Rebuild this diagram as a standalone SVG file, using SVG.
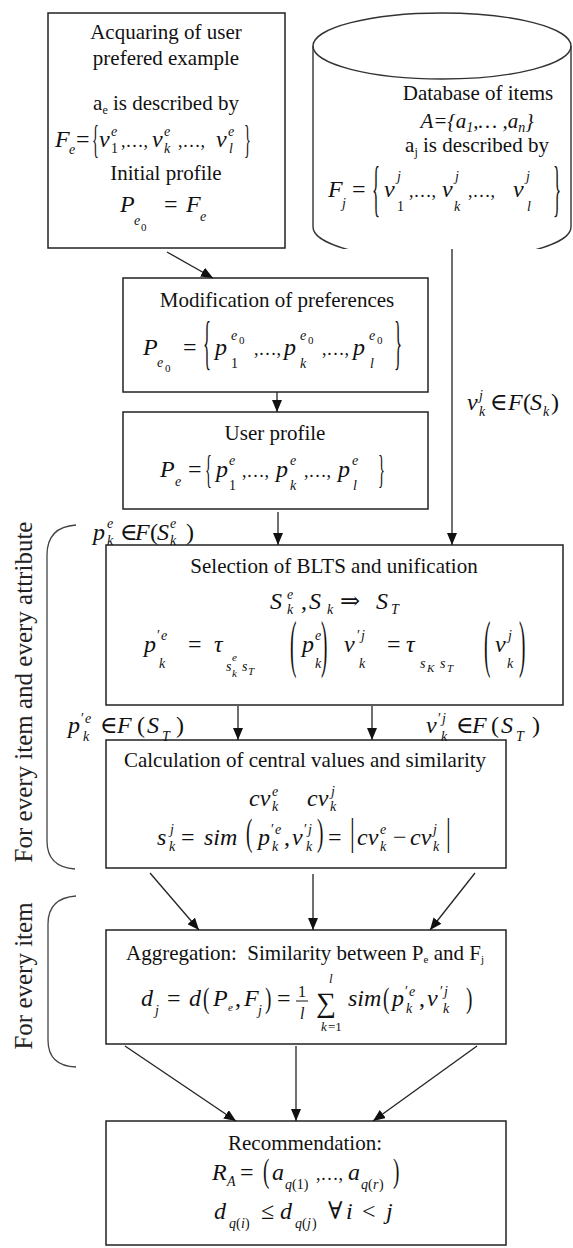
<svg xmlns="http://www.w3.org/2000/svg" width="573" height="1248" viewBox="0 0 573 1248">
<defs>
<style>
.t{font-family:"Liberation Serif","Times New Roman","DejaVu Serif",serif;font-size:21px;fill:#111}
.m{font-family:"Liberation Serif","Times New Roman","DejaVu Serif",serif;font-size:24px;font-style:italic;fill:#111}
.n{font-style:normal}
.s{font-size:14px}
.ss{font-size:11px}
.c{font-size:18px;font-style:normal}
.dl{font-family:"Liberation Serif","DejaVu Serif",serif;font-size:24px;fill:#111}
.box{fill:#fff;stroke:#222;stroke-width:1.5}
.ln{fill:none;stroke:#222;stroke-width:1.3}
.cyl{fill:none;stroke:#333;stroke-width:1.4}
.br{fill:none;stroke:#444;stroke-width:1.3}
.side{font-family:"Liberation Serif","Times New Roman",serif;font-size:25px;fill:#222}
</style>
<marker id="ah" viewBox="0 0 12 10" refX="12" refY="5" markerWidth="12" markerHeight="10" markerUnits="userSpaceOnUse" orient="auto"><path d="M0,0L12,5L0,10z" fill="#111"/></marker>
<clipPath id="cylclip"><rect x="300" y="0" width="273" height="249"/></clipPath>
</defs>
<rect width="573" height="1248" fill="#fff"/>

<g id="acquiring">
<rect class="box" x="48" y="13" width="237" height="235"/>
<text class="t" x="166" y="39" text-anchor="middle">Acquaring of user</text>
<text class="t" x="166" y="65" text-anchor="middle">prefered example</text>
<text class="t" x="166" y="110" text-anchor="middle">a<tspan font-size="12" dy="4">e</tspan><tspan dy="-4"> is described by</tspan></text>
<text class="m"><tspan x="55" y="147">F</tspan><tspan class="s" x="69" y="154">e</tspan><tspan class="n" x="76" y="147">=</tspan><tspan x="99" y="147">ν</tspan><tspan class="s" x="111" y="136">e</tspan><tspan class="s n" x="111" y="153">1</tspan><tspan class="c" x="121" y="147">,…,</tspan><tspan x="152" y="147">ν</tspan><tspan class="s" x="164" y="136">e</tspan><tspan class="s" x="164" y="153">k</tspan><tspan class="c" x="178" y="147">,…,</tspan><tspan x="216" y="147">ν</tspan><tspan class="s" x="228" y="136">e</tspan><tspan class="s" x="229" y="153">l</tspan></text>
<text class="dl" transform="translate(92,153) scale(0.6,1.7)">{</text>
<text class="dl" transform="translate(244,153) scale(0.6,1.7)">}</text>
<text class="t" x="166" y="180" text-anchor="middle">Initial profile</text>
<text class="m"><tspan x="120" y="212">P</tspan><tspan class="s" x="134" y="225">e</tspan><tspan class="ss n" x="141" y="231">0</tspan><tspan class="n" x="164" y="212">=</tspan><tspan x="186" y="212">F</tspan><tspan class="s" x="200" y="221">e</tspan></text>
</g>

<g id="database">
<g clip-path="url(#cylclip)">
<path class="cyl" d="M313,46 L313,227 A129,33 0 0 0 571,227 L571,46"/>
<ellipse class="cyl" cx="442" cy="46" rx="129" ry="33"/>
</g>
<text class="t" x="478" y="100" text-anchor="middle">Database of items</text>
<text class="m" x="477" y="128" text-anchor="middle" style="font-size:21px">A={a<tspan class="s" dy="4">1</tspan><tspan dy="-4">,… ,a</tspan><tspan class="s" dy="4">n</tspan><tspan dy="-4">}</tspan></text>
<text class="t" x="477" y="152" text-anchor="middle">a<tspan font-size="12" dy="4">j</tspan><tspan dy="-4"> is described by</tspan></text>
<text class="m"><tspan x="328" y="197">F</tspan><tspan class="s" x="342" y="208">j</tspan><tspan class="n" x="352" y="197">=</tspan><tspan x="384" y="197">ν</tspan><tspan class="s" x="397" y="181">j</tspan><tspan class="s n" x="397" y="211">1</tspan><tspan class="c" x="409" y="197">,…,</tspan><tspan x="442" y="197">ν</tspan><tspan class="s" x="455" y="181">j</tspan><tspan class="s" x="454" y="211">k</tspan><tspan class="c" x="468" y="197">,…,</tspan><tspan x="513" y="197">ν</tspan><tspan class="s" x="526" y="181">j</tspan><tspan class="s" x="527" y="211">l</tspan></text>
<text class="dl" transform="translate(372,209) scale(0.7,2.57)">{</text>
<text class="dl" transform="translate(553,209) scale(0.7,2.57)">}</text>
</g>

<g id="modification">
<rect class="box" x="123" y="278" width="305" height="114"/>
<text class="t" x="277" y="307" text-anchor="middle">Modification of preferences</text>
<text class="m"><tspan x="143" y="355">P</tspan><tspan class="s" x="157" y="367">e</tspan><tspan class="ss n" x="165" y="372">0</tspan><tspan class="n" x="183" y="355">=</tspan><tspan x="215" y="355">p</tspan><tspan class="s" x="231" y="340">e</tspan><tspan class="ss n" x="239" y="344">0</tspan><tspan class="s n" x="231" y="368">1</tspan><tspan class="c" x="254" y="355">,…,</tspan><tspan x="284" y="355">p</tspan><tspan class="s" x="300" y="340">e</tspan><tspan class="ss n" x="308" y="344">0</tspan><tspan class="s" x="300" y="368">k</tspan><tspan class="c" x="322" y="355">,…,</tspan><tspan x="353" y="355">p</tspan><tspan class="s" x="369" y="340">e</tspan><tspan class="ss n" x="377" y="344">0</tspan><tspan class="s" x="370" y="368">l</tspan></text>
<text class="dl" transform="translate(203,362) scale(0.7,2.46)">{</text>
<text class="dl" transform="translate(394,362) scale(0.7,2.46)">}</text>
</g>

<g id="userprofile">
<rect class="box" x="123" y="412" width="305" height="97"/>
<text class="t" x="275" y="440" text-anchor="middle">User profile</text>
<text class="m"><tspan x="160" y="477">P</tspan><tspan class="s" x="175" y="486">e</tspan><tspan class="n" x="188" y="477">=</tspan><tspan x="216" y="477">p</tspan><tspan class="s" x="229" y="465">e</tspan><tspan class="s n" x="229" y="490">1</tspan><tspan class="c" x="242" y="477">,…,</tspan><tspan x="276" y="477">p</tspan><tspan class="s" x="290" y="465">e</tspan><tspan class="s" x="290" y="490">k</tspan><tspan class="c" x="304" y="477">,…,</tspan><tspan x="338" y="477">p</tspan><tspan class="s" x="352" y="465">e</tspan><tspan class="s" x="353" y="490">l</tspan></text>
<text class="dl" transform="translate(205,483) scale(0.6,1.7)">{</text>
<text class="dl" transform="translate(378,483) scale(0.6,1.7)">}</text>
</g>

<g id="selection">
<rect class="box" x="106" y="545" width="457" height="160"/>
<text class="t" x="334" y="573" text-anchor="middle">Selection of BLTS and unification</text>
<text class="m"><tspan x="270" y="609">S</tspan><tspan class="s" x="287" y="599">e</tspan><tspan class="s" x="287" y="614">k</tspan><tspan class="n" x="301" y="609">,</tspan><tspan x="309" y="609">S</tspan><tspan class="s" x="327" y="614">k</tspan><tspan class="n" x="340" y="609">⇒</tspan><tspan x="376" y="609">S</tspan><tspan class="s" x="391" y="614">T</tspan></text>
<text class="m"><tspan x="144" y="652">p</tspan><tspan class="s n" x="157" y="640">′</tspan><tspan class="s" x="161" y="640">e</tspan><tspan class="s" x="159" y="668">k</tspan><tspan class="n" x="188" y="652">=</tspan><tspan x="214" y="652">τ</tspan><tspan class="s" x="226" y="671">s</tspan><tspan class="ss" x="232" y="661">e</tspan><tspan class="ss" x="232" y="677">k</tspan><tspan class="s" x="242" y="671">s</tspan><tspan class="ss" x="248" y="675">T</tspan><tspan x="302" y="652">p</tspan><tspan class="s" x="315" y="640">e</tspan><tspan class="s" x="315" y="668">k</tspan></text>
<text class="dl" transform="translate(290,665) scale(0.8,2.6)">(</text>
<text class="dl" transform="translate(321,665) scale(0.8,2.6)">)</text>
<text class="m"><tspan x="344" y="652">ν</tspan><tspan class="s n" x="357" y="640">′</tspan><tspan class="s" x="361" y="640">j</tspan><tspan class="s" x="359" y="668">k</tspan><tspan class="n" x="387" y="652">=</tspan><tspan x="406" y="652">τ</tspan><tspan class="s" x="420" y="668">s</tspan><tspan class="ss" x="427" y="672">K</tspan><tspan class="s" x="440" y="668">s</tspan><tspan class="ss" x="447" y="672">T</tspan><tspan x="495" y="652">ν</tspan><tspan class="s" x="508" y="640">j</tspan><tspan class="s" x="507" y="668">k</tspan></text>
<text class="dl" transform="translate(484,665) scale(0.8,2.6)">(</text>
<text class="dl" transform="translate(519,665) scale(0.8,2.6)">)</text>
</g>

<g id="calculation">
<rect class="box" x="106" y="740" width="400" height="128"/>
<text class="t" x="305" y="767" text-anchor="middle">Calculation of central values and similarity</text>
<text class="m"><tspan x="249" y="806">cv</tspan><tspan class="s" x="272" y="796">e</tspan><tspan class="s" x="272" y="811">k</tspan><tspan x="307" y="806">cv</tspan><tspan class="s" x="331" y="796">j</tspan><tspan class="s" x="330" y="811">k</tspan></text>
<text class="m"><tspan x="157" y="845">s</tspan><tspan class="s" x="170" y="834">j</tspan><tspan class="s" x="169" y="851">k</tspan><tspan class="n" x="181" y="845">=</tspan><tspan x="204" y="845">sim</tspan><tspan x="258" y="845">p</tspan><tspan class="s n" x="271" y="834">′</tspan><tspan class="s" x="275" y="834">e</tspan><tspan class="s" x="272" y="851">k</tspan><tspan class="n" x="284" y="845">,</tspan><tspan x="292" y="845">ν</tspan><tspan class="s n" x="304" y="834">′</tspan><tspan class="s" x="308" y="834">j</tspan><tspan class="s" x="306" y="851">k</tspan><tspan class="n" x="328" y="845">=</tspan><tspan x="357" y="845">cv</tspan><tspan class="s" x="380" y="834">e</tspan><tspan class="s" x="380" y="851">k</tspan><tspan class="n" x="393" y="845">−</tspan><tspan x="410" y="845">cv</tspan><tspan class="s" x="433" y="834">j</tspan><tspan class="s" x="433" y="851">k</tspan></text>
<text class="dl" transform="translate(246,845) scale(0.8,1.55)">(</text>
<text class="dl" transform="translate(317,845) scale(0.8,1.55)">)</text>
<text class="dl" transform="translate(350,845) scale(1,1.55)">|</text>
<text class="dl" transform="translate(446,845) scale(1,1.55)">|</text>
</g>

<g id="aggregation">
<rect class="box" x="106" y="930" width="400" height="114"/>
<text class="t" x="305" y="960" text-anchor="middle">Aggregation:&#160; Similarity between P<tspan font-size="11" dy="3">e</tspan><tspan dy="-3"> and F</tspan><tspan font-size="11" dy="3">j</tspan></text>
<text class="m"><tspan x="141" y="1006">d</tspan><tspan class="s" x="155" y="1015">j</tspan><tspan class="n" x="167" y="1006">=</tspan><tspan x="189" y="1006">d</tspan><tspan x="213" y="1006">P</tspan><tspan class="ss" x="228" y="1011">e</tspan><tspan class="n" x="235" y="1006">,</tspan><tspan x="244" y="1006">F</tspan><tspan class="s" x="258" y="1015">j</tspan><tspan class="n" x="277" y="1006">=</tspan><tspan class="n" x="298" y="997" font-size="16">1</tspan><tspan x="300" y="1019" font-size="16">l</tspan><tspan class="n" x="316" y="1012" font-size="28">∑</tspan><tspan x="329" y="983" font-size="13">l</tspan><tspan x="321" y="1031" font-size="13">k</tspan><tspan class="n" x="328" y="1031" font-size="13">=1</tspan><tspan x="348" y="1006">sim</tspan><tspan x="392" y="1006">p</tspan><tspan class="s n" x="405" y="996">′</tspan><tspan class="s" x="409" y="996">e</tspan><tspan class="s" x="406" y="1013">k</tspan><tspan class="n" x="419" y="1006">,</tspan><tspan x="427" y="1006">ν</tspan><tspan class="s n" x="440" y="996">′</tspan><tspan class="s" x="444" y="996">j</tspan><tspan class="s" x="443" y="1013">k</tspan></text>
<line x1="296" y1="1001" x2="308" y2="1001" stroke="#111" stroke-width="1"/>
<text class="dl" transform="translate(203,1008) scale(0.8,1.2)">(</text>
<text class="dl" transform="translate(265,1008) scale(0.8,1.2)">)</text>
<text class="dl" transform="translate(383,1008) scale(0.8,1.2)">(</text>
<text class="dl" transform="translate(466,1008) scale(0.8,1.2)">)</text>
</g>

<g id="recommendation">
<rect class="box" x="106" y="1121" width="400" height="124"/>
<text class="t" x="305" y="1150" text-anchor="middle">Recommendation:</text>
<text class="m"><tspan x="212" y="1180">R</tspan><tspan class="s" x="227" y="1186">A</tspan><tspan class="n" x="240" y="1180">=</tspan><tspan x="272" y="1180">a</tspan><tspan class="s" x="285" y="1189">q</tspan><tspan class="s n" x="292" y="1189">(1)</tspan><tspan class="c" x="316" y="1180">,…,</tspan><tspan x="348" y="1180">a</tspan><tspan class="s" x="361" y="1189">q</tspan><tspan class="s n" x="368" y="1189">(</tspan><tspan class="s" x="373" y="1189">r</tspan><tspan class="s n" x="379" y="1189">)</tspan></text>
<text class="dl" transform="translate(263,1182) scale(0.8,1.42)">(</text>
<text class="dl" transform="translate(393,1182) scale(0.8,1.42)">)</text>
<text class="m"><tspan x="214" y="1219">d</tspan><tspan class="s" x="229" y="1228">q</tspan><tspan class="s n" x="236" y="1228">(</tspan><tspan class="s" x="241" y="1228">i</tspan><tspan class="s n" x="245" y="1228">)</tspan><tspan class="n" x="261" y="1219">≤</tspan><tspan x="280" y="1219">d</tspan><tspan class="s" x="295" y="1228">q</tspan><tspan class="s n" x="302" y="1228">(</tspan><tspan class="s" x="307" y="1228">j</tspan><tspan class="s n" x="312" y="1228">)</tspan><tspan class="n" x="328" y="1219">∀</tspan><tspan x="346" y="1219">i</tspan><tspan class="n" x="362" y="1219">&lt;</tspan><tspan x="386" y="1219">j</tspan></text>
</g>

<g id="connectors">
<path class="ln" d="M167,252 L213,278" marker-end="url(#ah)"/>
<path class="ln" d="M277,392 L277,412" marker-end="url(#ah)"/>
<path class="ln" d="M278,512 L278,545" marker-end="url(#ah)"/>
<path class="ln" d="M452,249 L452,545" marker-end="url(#ah)"/>
<path class="ln" d="M238,706 L238,740" marker-end="url(#ah)"/>
<path class="ln" d="M372,706 L372,740" marker-end="url(#ah)"/>
<path class="ln" d="M150,873 L199,930" marker-end="url(#ah)"/>
<path class="ln" d="M313,874 L313,930" marker-end="url(#ah)"/>
<path class="ln" d="M475,873 L430,930" marker-end="url(#ah)"/>
<path class="ln" d="M125,1046 L236,1121" marker-end="url(#ah)"/>
<path class="ln" d="M296,1046 L296,1121" marker-end="url(#ah)"/>
<path class="ln" d="M477,1046 L373,1121" marker-end="url(#ah)"/>
<text class="m"><tspan x="467" y="410">ν</tspan><tspan class="s" x="479" y="400">j</tspan><tspan class="s" x="479" y="416">k</tspan><tspan class="n" x="490" y="410">∈</tspan><tspan x="508" y="410">F</tspan><tspan class="n" x="523" y="410">(</tspan><tspan x="530" y="410">S</tspan><tspan class="s" x="543" y="416">k</tspan><tspan class="n" x="551" y="410">)</tspan></text>
<text class="m"><tspan x="93" y="540">p</tspan><tspan class="s" x="107" y="528">e</tspan><tspan class="s" x="107" y="545">k</tspan><tspan class="n" x="120" y="540">∈</tspan><tspan x="135" y="540">F</tspan><tspan class="n" x="150" y="540">(</tspan><tspan x="157" y="540">S</tspan><tspan class="s" x="170" y="528">e</tspan><tspan class="s" x="170" y="545">k</tspan><tspan class="n" x="186" y="540">)</tspan></text>
<text class="m"><tspan x="68" y="733">p</tspan><tspan class="s n" x="81" y="723">′</tspan><tspan class="s" x="85" y="723">e</tspan><tspan class="s" x="83" y="741">k</tspan><tspan class="n" x="100" y="733">∈</tspan><tspan x="117" y="733">F</tspan><tspan class="n" x="137" y="733">(</tspan><tspan x="147" y="733">S</tspan><tspan class="s" x="162" y="741">T</tspan><tspan class="n" x="176" y="733">)</tspan></text>
<text class="m"><tspan x="426" y="733">ν</tspan><tspan class="s n" x="438" y="723">′</tspan><tspan class="s" x="442" y="723">j</tspan><tspan class="s" x="441" y="741">k</tspan><tspan class="n" x="456" y="733">∈</tspan><tspan x="472" y="733">F</tspan><tspan class="n" x="491" y="733">(</tspan><tspan x="501" y="733">S</tspan><tspan class="s" x="516" y="741">T</tspan><tspan class="n" x="532" y="733">)</tspan></text>
</g>

<g id="scope-attribute">
<path class="br" d="M76,525 Q47,527 47,555 L47,841 Q47,867 75,869"/>
<text class="side" transform="translate(32,692) rotate(-90)" text-anchor="middle">For every item and every attribute</text>
</g>
<g id="scope-item">
<path class="br" d="M76,896 Q48,898 48,924 L48,1040 Q48,1066 76,1067"/>
<text class="side" transform="translate(32,976) rotate(-90)" text-anchor="middle">For every item</text>
</g>
</svg>
